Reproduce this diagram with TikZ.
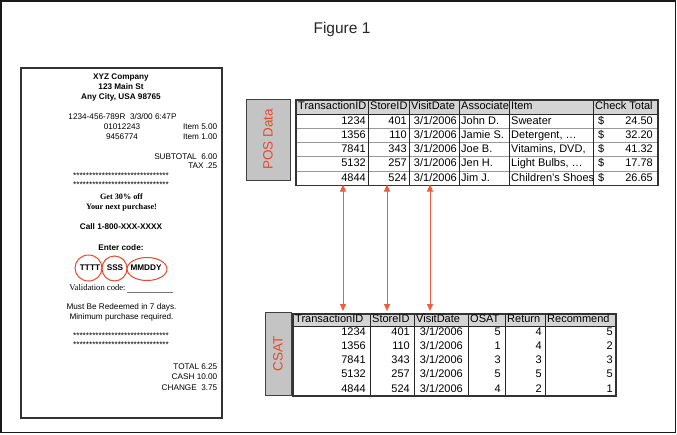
\documentclass[tikz,border=0pt]{standalone}
\usepackage{fontspec}
\setmainfont{Liberation Sans}
\newfontfamily\myserif{Liberation Serif}
\usetikzlibrary{arrows.meta}
\definecolor{accent}{RGB}{236,72,40}
\definecolor{arrowc}{RGB}{242,92,62}
\definecolor{hdrgray}{RGB}{212,212,212}
\definecolor{lblgray}{RGB}{196,196,196}
\newcommand\myrcpt{\fontsize{8.2}{9}\selectfont}
\newcommand\mytab{\fontsize{11}{12}\selectfont}
\begin{document}
\begin{tikzpicture}[x=1pt,y=-1pt,
  rtxt/.style={font=\myrcpt, inner sep=0pt, text height=6pt, text depth=1.6pt},
  rbold/.style={rtxt, font=\myrcpt\bfseries},
  rserif/.style={rtxt, font=\myrcpt\myserif\bfseries},
  ttxt/.style={font=\mytab, inner sep=0pt, text height=8pt, text depth=2.2pt},
  codering/.style={draw=accent, line width=1pt},
  lblbox/.style={draw=black!75, fill=lblgray, line width=1pt, inner sep=0pt},
  lbltxt/.style={rotate=90, text=accent, font=\fontsize{13.5}{14}\selectfont, inner sep=0pt},
  gridline/.style={draw=black!85, line width=1pt},
  rowline/.style={draw=black!40, line width=0.6pt},
  tframe/.style={draw=black!80, line width=1.3pt},
  link/.style={draw=arrowc, line width=1pt, {Triangle[width=6pt,length=7pt]}-{Triangle[width=6pt,length=7pt]}}
]
\useasboundingbox (0,0) rectangle (677,434);
\fill[white] (0,0) rectangle (677,434);
\draw[black!90, line width=1.2pt] (1,1) rectangle (675.5,432.5);

% title
\node[inner sep=0pt, font=\fontsize{15.5}{16}\selectfont, text=black!85] (title) at (342,29) {Figure 1};

% ---------------- receipt ----------------
\node[draw=black!80, line width=1.5pt, minimum width=201pt, minimum height=350pt, inner sep=0pt] (receipt) at (121.5,243) {};
\node[rbold] (r1) at (121,77) {XYZ Company};
\node[rbold] (r2) at (121,87) {123 Main St};
\node[rbold] (r3) at (121,97.5) {Any City, USA 98765};
\node[rtxt] (r4) at (122.5,117.5) {1234-456-789R\ \ 3/3/00 6:47P};
\node[rtxt] (r5) at (122,127) {01012243};
\node[rtxt, anchor=east] (r6) at (217.5,127) {Item 5.00};
\node[rtxt] (r7) at (122,137) {9456774};
\node[rtxt, anchor=east] (r8) at (217.5,137) {Item 1.00};
\node[rtxt, anchor=east] (r9) at (217.5,157) {SUBTOTAL\ \ 6.00};
\node[rtxt, anchor=east] (r10) at (217.5,166.5) {TAX .25};
\node[rtxt] (s1) at (121,176) {******************************};
\node[rtxt] (s2) at (121,185) {******************************};
\node[rserif] (r11) at (121.5,197.5) {Get 30\% off};
\node[rserif] (r12) at (121.5,207.5) {Your next purchase!};
\node[rbold] (r13) at (121,227) {Call 1-800-XXX-XXXX};
\node[rbold] (r14) at (121,248) {Enter code:};
\draw[codering] (88.5,268) ellipse [x radius=13.5, y radius=13];
\draw[codering] (114.5,268.5) ellipse [x radius=12.5, y radius=12.5];
\draw[codering] (147,269) ellipse [x radius=20, y radius=11.5];
\node[rbold] (c1) at (90,268) {TTTT};
\node[rbold] (c2) at (115,268) {SSS};
\node[rbold] (c3) at (146,268) {MMDDY};
\node[rtxt, font=\fontsize{8.6}{9}\selectfont\myserif] (r15) at (97.5,288) {Validation code:};
\draw[black!55, line width=0.8pt] (127,292) -- (173,292);
\node[rtxt] (r16) at (121.5,307.5) {Must Be Redeemed in 7 days.};
\node[rtxt] (r17) at (121.5,317) {Minimum purchase required.};
\node[rtxt] (s3) at (121,336) {******************************};
\node[rtxt] (s4) at (121,345) {******************************};
\node[rtxt, anchor=east] (r18) at (217.5,367.5) {TOTAL 6.25};
\node[rtxt, anchor=east] (r19) at (217.5,377.5) {CASH 10.00};
\node[rtxt, anchor=east] (r20) at (217.5,388) {CHANGE\ \ 3.75};

% ---------------- labels ----------------
\node[lblbox, minimum width=44pt, minimum height=81pt] (poslbl) at (268,139.5) {};
\node[lbltxt] (postxt) at (poslbl) {POS Data};
\node[lblbox, minimum width=26pt, minimum height=83pt] (csatlbl) at (278,353.5) {};
\node[lbltxt] (csattxt) at (csatlbl) {CSAT};

% ---------------- POS table ----------------
\fill[hdrgray] (296,100) rectangle (658,114);
\fill[white] (296,114) rectangle (658,185.25);
\foreach \k in {1,...,4} \draw[rowline] (296,{114+14.25*\k}) -- (658,{114+14.25*\k});
\draw[gridline] (296,114) -- (658,114);
\foreach \x in {368,409,459,509,593} \draw[gridline] (\x,100) -- (\x,185.25);
\draw[tframe] (296,100) rectangle (658,185.25);
\node[ttxt, anchor=west] (ph1) at (298,107) {TransactionID};
\node[ttxt, anchor=west] (ph2) at (370,107) {StoreID};
\node[ttxt, anchor=west] (ph3) at (411,107) {VisitDate};
\begin{scope}
  \clip (460,101) rectangle (508.5,113);
  \node[ttxt, anchor=west] (ph4) at (461,107) {Associate};
\end{scope}
\node[ttxt, anchor=west] (ph5) at (511,107) {Item};
\node[ttxt, anchor=west] (ph6) at (595,107) {Check Total};
\foreach \tid/\sid/\asc/\itm/\amt [count=\r] in {
  1234/401/John D./Sweater/24.50,
  1356/110/Jamie S./{Detergent, …}/32.20,
  7841/343/Joe B./{Vitamins, DVD,}/41.32,
  5132/257/Jen H./{Light Bulbs, …}/17.78,
  4844/524/Jim J./Children's Shoes/26.65} {
  \node[ttxt, anchor=east] (pa\r) at (366,{107+14.25*\r}) {\tid};
  \node[ttxt, anchor=east] (pb\r) at (407,{107+14.25*\r}) {\sid};
  \node[ttxt, anchor=east] (pc\r) at (457,{107+14.25*\r}) {3/1/2006};
  \node[ttxt, anchor=west] (pd\r) at (461,{107+14.25*\r}) {\asc};
  \node[ttxt, anchor=west] (pe\r) at (511,{107+14.25*\r}) {\itm};
  \node[ttxt, anchor=west] (pf\r) at (598,{107+14.25*\r}) {\$};
  \node[ttxt, anchor=east] (pg\r) at (653,{107+14.25*\r}) {\amt};
}

% ---------------- CSAT table ----------------
\fill[hdrgray] (293,314) rectangle (616,326);
\fill[white] (293,326) rectangle (616,396);
\draw[gridline] (293,326) -- (616,326);
\foreach \x in {370,414,468,505,545} \draw[gridline] (\x,314) -- (\x,396);
\draw[tframe] (293,314) rectangle (616,396);
\node[ttxt, anchor=west] (ch1) at (295,320) {TransactionID};
\node[ttxt, anchor=west] (ch2) at (372,320) {StoreID};
\node[ttxt, anchor=west] (ch3) at (416,320) {VisitDate};
\node[ttxt, anchor=west] (ch4) at (470,320) {OSAT};
\node[ttxt, anchor=west] (ch5) at (507,320) {Return};
\node[ttxt, anchor=west] (ch6) at (547,320) {Recommend};
\foreach \tid/\sid/\os/\rt/\rc [count=\r] in {
  1234/401/5/4/5, 1356/110/1/4/2, 7841/343/3/3/3, 5132/257/5/5/5, 4844/524/4/2/1} {
  \node[ttxt, anchor=east] (ca\r) at (366,{318+14.25*\r}) {\tid};
  \node[ttxt, anchor=east] (cb\r) at (410,{318+14.25*\r}) {\sid};
  \node[ttxt, anchor=east] (cc\r) at (463,{318+14.25*\r}) {3/1/2006};
  \node[ttxt, anchor=east] (cd\r) at (501,{318+14.25*\r}) {\os};
  \node[ttxt, anchor=east] (ce\r) at (542,{318+14.25*\r}) {\rt};
  \node[ttxt, anchor=east] (cf\r) at (613,{318+14.25*\r}) {\rc};
}

% ---------------- links ----------------
\coordinate (t1) at (343,184.5);
\coordinate (b1) at (343,311);
\coordinate (t2) at (387,184.5);
\coordinate (b2) at (387,311);
\coordinate (t3) at (430,184.5);
\coordinate (b3) at (430,311);
\draw[link] (t1) -- (b1);
\draw[link] (t2) -- (b2);
\draw[link] (t3) -- (b3);
\end{tikzpicture}
\end{document}
